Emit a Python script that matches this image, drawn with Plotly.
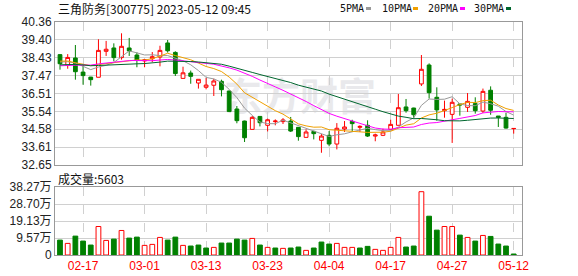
import base64
import numpy as np
import plotly.graph_objects as go

# ---------------- data ----------------
dates = ["02-14", "02-15", "02-16", "02-17", "02-20", "02-21", "02-22", "02-23", "02-24", "02-27",
         "02-28", "03-01", "03-02", "03-03", "03-06", "03-07", "03-08", "03-09", "03-10", "03-13",
         "03-14", "03-15", "03-16", "03-17", "03-20", "03-21", "03-22", "03-23", "03-24", "03-27",
         "03-28", "03-29", "03-30", "03-31", "04-03", "04-04", "04-06", "04-07", "04-10", "04-11",
         "04-12", "04-13", "04-14", "04-17", "04-18", "04-19", "04-20", "04-21", "04-24", "04-25",
         "04-26", "04-27", "04-28", "05-04", "05-05", "05-08", "05-09", "05-10", "05-11", "05-12"]

open_ = [38.60, 38.02, 38.42, 37.66, 37.39, 37.38, 38.78, 38.96, 38.44, 38.96,
         38.58, 38.26, 38.38, 38.47, 39.23, 38.72, 37.32, 37.61, 37.07, 36.84,
         36.95, 37.16, 36.64, 35.67, 35.02, 34.57, 35.27, 34.79, 34.99, 34.99,
         35.02, 34.68, 34.14, 34.46, 33.98, 34.25, 33.78, 34.59, 35.00, 34.68,
         34.79, 34.21, 34.25, 34.57, 34.79, 35.78, 35.72, 37.02, 38.04, 36.30,
         35.58, 35.38, 35.94, 35.76, 35.96, 35.56, 36.68, 35.29, 35.22, 34.61]
high = [38.63, 38.63, 39.12, 38.08, 37.40, 39.43, 39.34, 39.21, 39.75, 39.50,
        38.72, 38.35, 38.74, 39.08, 39.39, 38.78, 37.95, 37.74, 37.27, 37.34,
        37.30, 37.25, 36.66, 35.83, 35.04, 35.29, 35.28, 35.15, 35.11, 35.18,
        35.24, 34.70, 34.57, 34.50, 34.32, 34.48, 34.91, 35.02, 35.09, 34.79,
        35.06, 34.34, 34.61, 35.09, 36.48, 36.21, 35.74, 38.58, 38.13, 36.84,
        36.12, 36.23, 35.94, 36.53, 36.30, 36.77, 36.89, 35.29, 35.47, 34.62]
low = [37.79, 37.84, 37.25, 36.98, 36.93, 37.38, 38.53, 38.24, 38.33, 38.53,
       37.92, 37.92, 38.20, 37.97, 38.71, 37.45, 37.32, 37.03, 36.77, 36.73,
       36.37, 36.35, 35.51, 34.90, 33.89, 34.57, 34.73, 34.46, 34.79, 34.86,
       34.43, 33.96, 34.14, 34.03, 33.31, 33.66, 33.49, 34.43, 34.43, 34.43,
       34.16, 33.93, 34.21, 34.57, 34.79, 35.47, 35.15, 36.91, 36.23, 35.04,
       35.20, 33.84, 35.31, 35.51, 35.42, 35.45, 35.36, 34.70, 34.61, 34.34]
close = [38.11, 38.45, 37.68, 37.47, 37.25, 38.83, 38.89, 38.44, 39.05, 38.80,
         38.30, 38.32, 38.49, 38.83, 38.81, 37.58, 37.62, 37.43, 37.27, 36.96,
         37.18, 36.71, 35.53, 35.04, 34.12, 35.22, 34.93, 35.09, 35.02, 35.08,
         34.48, 34.18, 34.43, 34.34, 34.21, 33.78, 34.63, 34.70, 34.88, 34.73,
         34.21, 34.27, 34.43, 34.84, 35.74, 35.58, 35.36, 37.81, 36.55, 35.62,
         35.65, 36.03, 35.89, 36.08, 35.58, 36.62, 35.60, 35.22, 34.64, 34.62]
# volume in units of 万 (10,000)
volume_wan = [8.39, 6.53, 10.63, 7.84, 5.60, 16.04, 8.21, 8.95, 13.80, 9.51,
              10.07, 5.41, 5.97, 9.89, 8.39, 10.07, 5.41, 5.04, 5.60, 3.92,
              4.29, 6.72, 6.72, 8.95, 8.39, 9.33, 5.60, 4.29, 3.92, 3.73,
              3.92, 4.48, 2.61, 3.92, 7.28, 6.16, 6.53, 4.29, 4.29, 3.92,
              4.85, 3.17, 2.61, 4.29, 9.89, 4.48, 5.04, 35.63, 21.83, 13.99,
              16.04, 16.04, 11.19, 9.89, 7.84, 11.01, 10.45, 6.16, 5.04, 0.5603]
# estimated closes of the 29 sessions before the visible window (for the moving averages)
history_close = [37.60, 37.85, 38.30, 38.55, 38.40, 38.10, 38.25, 38.05, 38.20, 38.20,
                 37.90, 37.60, 37.40, 37.20, 37.55, 37.80, 37.95, 38.00, 37.85, 38.25,
                 38.40, 38.60, 38.10, 38.20, 38.20, 38.35, 38.05, 38.30, 38.19]
ma_periods = [5, 10, 20, 30]
price_min, price_max = 32.65, 40.36
price_ticks = ["32.65", "33.61", "34.58", "35.54", "36.51", "37.47", "38.43", "39.40", "40.36"]
vol_max = 38.27
vol_ticks = ["0", "9.57万", "19.13万", "28.70万", "38.27万"]
x_labels = ["02-17", "03-01", "03-13", "03-23", "04-04", "04-17", "04-27", "05-12"]
title_text = "三角防务[300775] 2023-05-12 09:45"

# ---------------- styles ----------------
RED = "#ff0000"
GREEN = "#008000"
MA_COLORS = ["#999999", "#f0a000", "#ff00ff", "#00662e"]
GRID = "#d0d0d0"
FRAME = "#999999"
W, H = 578, 276
ML, MR, MT, MB = 55, 56, 22, 21
plot_h = H - MT - MB


def py(y):  # pixel y -> paper y
    return (H - MB - y) / plot_h


def px(x):  # pixel x -> paper x
    return (x - ML) / (W - ML - MR)


fig = go.Figure()

fig.add_trace(go.Candlestick(
    x=dates, open=open_, high=high, low=low, close=close,
    increasing=dict(line=dict(color=RED, width=1), fillcolor="#ffffff"),
    decreasing=dict(line=dict(color=GREEN, width=1), fillcolor=GREEN),
    whiskerwidth=0, showlegend=False, hoverinfo="skip",
    xaxis="x", yaxis="y"))

all_close = history_close + close
off = len(history_close)
for n, col in zip(ma_periods, MA_COLORS):
    ma = [float(np.mean(all_close[off + i - n + 1: off + i + 1])) for i in range(len(close))]
    fig.add_trace(go.Scatter(x=dates, y=ma, mode="lines", line=dict(color=col, width=1),
                             showlegend=False, hoverinfo="skip", xaxis="x", yaxis="y"))

vol_up = [(close[i] > (close[i - 1] if i > 0 else open_[i])) for i in range(len(close))]
fig.add_trace(go.Bar(
    x=dates, y=volume_wan, width=0.62,
    marker=dict(color=["#ffffff" if u else GREEN for u in vol_up],
                line=dict(color=[RED if u else GREEN for u in vol_up], width=1)),
    showlegend=False, hoverinfo="skip", xaxis="x2", yaxis="y2"))

xr = [-0.65, len(dates) + 0.08]
axis_common = dict(type="category", categoryorder="array", categoryarray=dates, range=xr,
                   tickmode="array", tickvals=x_labels, showgrid=True, gridcolor=GRID,
                   griddash="dash", gridwidth=1, showline=True, mirror=True,
                   linecolor=FRAME, linewidth=1, ticks="", zeroline=False, fixedrange=True,
                   automargin=False)

ytick_vals = list(np.linspace(price_min, price_max, len(price_ticks)))
vtick_vals = list(np.linspace(0, vol_max, len(vol_ticks)))

fig.update_layout(
    width=W, height=H,
    margin=dict(l=ML, r=MR, t=MT, b=MB, pad=0, autoexpand=False),
    paper_bgcolor="#ffffff", plot_bgcolor="rgba(0,0,0,0)",
    font=dict(family="Liberation Sans, Arial", size=12, color="#222222"),
    xaxis=dict(axis_common, anchor="y", showticklabels=False, rangeslider=dict(visible=False)),
    xaxis2=dict(axis_common, anchor="y2", matches="x", showticklabels=True,
                tickfont=dict(family="Liberation Sans, Arial", size=12, color=RED)),
    yaxis=dict(domain=[py(165), 1.0], range=[price_min, price_max], tickmode="array",
               tickvals=ytick_vals, ticktext=price_ticks, showgrid=True, gridcolor=GRID,
               showline=True, mirror=True, linecolor=FRAME, linewidth=1, ticks="",
               zeroline=False, fixedrange=True, automargin=False,
               tickfont=dict(family="Liberation Sans, Arial", size=12, color="#222222")),
    yaxis2=dict(domain=[0, py(187)], range=[0, vol_max], tickmode="array",
                tickvals=vtick_vals, ticktext=vol_ticks, showgrid=True, gridcolor=GRID,
                showline=True, mirror=True, linecolor=FRAME, linewidth=1, ticks="",
                zeroline=False, fixedrange=True, automargin=False,
                tickfont=dict(family="Liberation Sans, Noto Sans CJK SC", size=12, color="#222222")),
    bargap=0.3,
)

annotations = [
    dict(text=title_text, x=px(56), y=py(9), xref="paper", yref="paper", xanchor="left",
         yanchor="middle", showarrow=False,
         font=dict(family="Noto Sans CJK SC", size=12, color="#111111")),
    dict(text=f"成交量:{round(volume_wan[-1] * 10000)}", x=px(56), y=py(178), xref="paper",
         yref="paper", xanchor="left", yanchor="middle", showarrow=False,
         font=dict(family="Noto Sans CJK SC", size=12, color="#111111")),
]
shapes = []
legend_x = [338, 380, 426, 472]
square_x = [366, 413, 460, 506]
for n, col, lx, sx in zip(ma_periods, MA_COLORS, legend_x, square_x):
    annotations.append(dict(text=f"{n}PMA", x=px(lx), y=py(9), xref="paper", yref="paper",
                            xanchor="left", yanchor="middle", showarrow=False,
                            font=dict(family="DejaVu Sans Mono", size=10, color="#111111")))
    shapes.append(dict(type="rect", xref="paper", yref="paper", x0=px(sx), x1=px(sx + 5),
                       y0=py(10), y1=py(7), fillcolor=col, line=dict(width=0)))
fig.update_layout(annotations=annotations, shapes=shapes)

# faint watermark behind the plot
svg = ('<svg xmlns="http://www.w3.org/2000/svg" width="160" height="44">'
       '<text x="0" y="38" font-family="Noto Sans CJK SC" font-weight="bold" font-size="38" '
       'fill="#e9e9ec">东方财富</text></svg>')
uri = "data:image/svg+xml;base64," + base64.b64encode(svg.encode("utf-8")).decode()
fig.add_layout_image(dict(source=uri, xref="paper", yref="paper", x=px(224), y=py(72),
                          sizex=px(384) - px(224), sizey=py(72) - py(116), xanchor="left",
                          yanchor="top", sizing="stretch", layer="below", opacity=1))

fig.write_html("out.html")
